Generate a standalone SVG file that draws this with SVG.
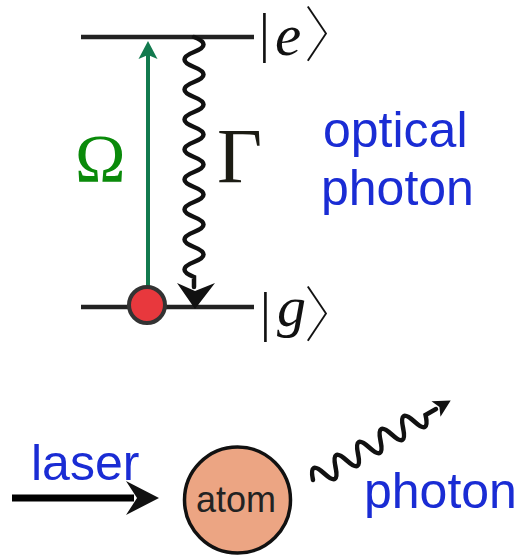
<svg xmlns="http://www.w3.org/2000/svg" width="520" height="555" viewBox="0 0 520 555">
<style>
.level{stroke:#222;stroke-width:4.5;fill:none}
.wave{stroke:#111;stroke-width:4.5;fill:none;stroke-linecap:round}
.blue{font-family:"Liberation Sans",Arial,sans-serif;font-size:50px;fill:#1a2cd4}
.ket{font-family:"Liberation Serif","DejaVu Serif",serif;font-size:54px;fill:#111}
.ang{font-family:"Noto Sans CJK JP","Noto Sans CJK SC",sans-serif;font-size:60px;font-weight:100}
.head{fill:#111}
</style>
<rect width="520" height="555" fill="#fff"/>
<g id="level-e">
<line class="level" x1="81" y1="37" x2="254" y2="37"/>
<text class="ket"><tspan x="259" y="51">|</tspan><tspan x="275" y="55" font-style="italic" font-size="59">e</tspan><tspan class="ang" x="304" y="57">〉</tspan></text>
</g>
<g id="level-g">
<line class="level" x1="81" y1="307" x2="254" y2="307"/>
<text class="ket"><tspan x="260" y="330">|</tspan><tspan x="277" y="326" font-style="italic" font-size="58">g</tspan><tspan class="ang" x="304" y="337">〉</tspan></text>
</g>
<g id="connectors">
<g id="omega-drive">
<line x1="148" y1="300" x2="148" y2="52" stroke="#127a4e" stroke-width="4"/>
<path d="M148,41 L157.5,59 L148,55 L138.5,59 Z" fill="#127a4e"/>
<text x="75" y="181" font-family="Liberation Serif,serif" font-size="68" fill="#0a8a0a">Ω</text>
</g>
<g id="gamma-decay">
<path class="wave" d="M194,37 q19,7.5 0,15 t0,15 t0,15 t0,15 t0,15 t0,15 t0,15 t0,15 t0,15 t0,15 t0,15 t0,15 t0,15 t0,15 t0,15 t0,15 l0,10"/>
<path class="head" d="M195,309 L215,283 L195,291 L177,283 Z"/>
<text x="217" y="182" font-family="Liberation Serif,serif" font-size="78" fill="#1c1c14">Γ</text>
</g>
<g id="laser-arrow">
<line x1="12" y1="498" x2="134" y2="498" stroke="#000" stroke-width="7"/>
<path class="head" d="M159,498 L126,515 L137,498 L126,481 Z" fill="#000"/>
</g>
<g id="photon-wave" transform="translate(313,480) rotate(-30)">
<path class="wave" stroke-width="5" d="M0,0 q6.5,-20 13,0 t13,0 t13,0 t13,0 t13,0 t13,0 t13,0 t13,0 t13,0 t13,0 l12,0"/>
<path class="head" d="M159,0 L142,9 L146,0 L142,-9 Z"/>
</g>
</g>
<g id="red-atom">
<circle cx="147" cy="305" r="18" fill="#e8383d" stroke="#333" stroke-width="4"/>
</g>
<g id="optical-photon-label">
<text class="blue" x="323" y="147">optical</text>
<text class="blue" x="321" y="205">photon</text>
</g>
<g id="laser-label">
<text class="blue" x="31" y="480">laser</text>
</g>
<g id="atom">
<circle cx="237.5" cy="500" r="53" fill="#eca583" stroke="#111" stroke-width="3.5"/>
<text x="236" y="512" text-anchor="middle" font-family="Liberation Sans,Arial,sans-serif" font-size="36" fill="#222">atom</text>
</g>
<g id="photon-label">
<text class="blue" x="364" y="508">photon</text>
</g>
</svg>
